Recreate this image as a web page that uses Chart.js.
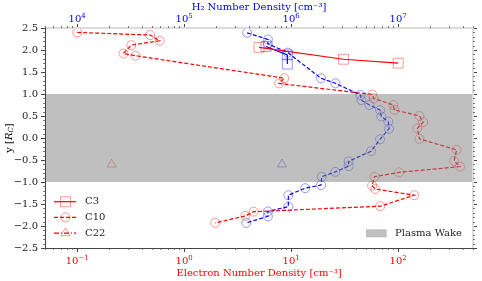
<!DOCTYPE html>
<html>
<head>
<meta charset="utf-8">
<script src="https://cdn.jsdelivr.net/npm/chart.js@4.4.1/dist/chart.umd.min.js"></script>
<style>
  html, body { margin: 0; padding: 0; background: #fff; }
</style>
</head>
<body>
<canvas id="grafico" width="482" height="281"></canvas>
<script>
// C10 flyby: altitude along y [R_C], electron density (bottom axis) and H2 density (top axis)
const c10ElecY = [2.40, 2.34, 2.21, 2.11, 1.92, 1.87, 1.36, 1.24, 0.99, 0.90, 0.75, 0.64, 0.50, 0.36,
                  0.22, -0.02, -0.27, -0.52, -0.65, -0.78, -0.88, -1.08, -1.16, -1.30, -1.55, -1.675, -1.77, -1.93];
const c10Elec = [0.10, 0.48, 0.59, 0.32, 0.27, 0.35, 8.6, 7.7, 57, 59, 90, 92, 158, 171,
                 151, 158, 351, 333, 378, 102, 60, 57, 61, 141, 68, 4.45, 3.73, 1.95];
const c10H2Y = [2.39, 2.24, 2.14, 1.94, 1.357, 1.243, 0.977, 0.86, 0.75, 0.636, 0.49, 0.37, 0.21,
                -0.03, -0.30, -0.53, -0.64, -0.77, -0.88, -1.07, -1.14, -1.30, -1.56, -1.67, -1.78, -1.93];
const c10H2 = [3.87e5, 6.05e5, 6.05e5, 9.3e5, 1.9e6, 2.59e6, 4.44e6, 4.53e6, 5.38e6, 6.76e6, 6.95e6, 8.09e6, 8.2e6,
               6.76e6, 5.57e6, 3.44e6, 3.44e6, 2.58e6, 1.93e6, 1.9e6, 1.35e6, 9.4e5, 9.4e5, 6.05e5, 6.05e5, 3.8e5];

// C3 flyby
const c3ElecY = [2.06, 1.79, 1.70];
const c3Elec = [5.0, 30.8, 100];
const c3H2Y = [2.08, 1.89, 1.68];
const c3H2 = [5.8e5, 9.2e5, 9.2e5];

// C22 flyby (single point each)
const c22Y = [-0.60];
const c22Elec = [0.21];
const c22H2 = [8.2e5];

// tick labels (base 10, exponent)
const elecTicks = [0.1, 1, 10, 100];
const elecExp = ['−1', '0', '1', '2'];
const h2Ticks = [1e4, 1e5, 1e6, 1e7];
const h2Exp = ['4', '5', '6', '7'];
const yTicks = [-2.5, -2.0, -1.5, -1.0, -0.5, 0.0, 0.5, 1.0, 1.5, 2.0, 2.5];

// wake band limits
const wakeBand = [-1.0, 1.0];

const pts = (xs, ys) => xs.map((v, i) => ({ x: v, y: ys[i] }));
const FONT = 'DejaVu Serif';
const redLine = 'rgb(255,0,0)';
const redMark = 'rgba(255,0,0,0.4)';
const blueLine = 'rgb(0,0,255)';
const blueMark = 'rgba(0,0,255,0.4)';

function serie(label, data, xAxis, line, mark, dash, style, radius) {
  return {
    label: label,
    data: data,
    xAxisID: xAxis,
    yAxisID: 'y',
    showLine: true,
    borderColor: line,
    borderWidth: 1.2,
    borderDash: dash,
    pointStyle: style,
    pointRadius: radius,
    pointHoverRadius: radius,
    pointBorderColor: mark,
    pointBackgroundColor: 'rgba(0,0,0,0)',
    pointBorderWidth: 1
  };
}

// minor log ticks 2..9 between decades
function logMinor(min, max) {
  const out = [];
  for (let e = Math.floor(Math.log10(min)); e <= Math.ceil(Math.log10(max)); e++) {
    for (let m = 2; m <= 9; m++) {
      const v = m * Math.pow(10, e);
      if (v >= min && v <= max) out.push(v);
    }
  }
  return out;
}

function drawMarker(ctx, style, x, y, r, color) {
  ctx.save();
  ctx.strokeStyle = color;
  ctx.lineWidth = 1;
  ctx.setLineDash([]);
  ctx.beginPath();
  if (style === 'circle') {
    ctx.arc(x, y, r, 0, Math.PI * 2);
  } else if (style === 'rect') {
    const s = r * Math.SQRT1_2;
    ctx.rect(x - s, y - s, 2 * s, 2 * s);
  } else {
    ctx.moveTo(x, y - r);
    ctx.lineTo(x + r * 0.866, y + r * 0.5);
    ctx.lineTo(x - r * 0.866, y + r * 0.5);
    ctx.closePath();
  }
  ctx.stroke();
  ctx.restore();
}

// "10" with a raised exponent, centred on x
function powerLabel(ctx, exp, x, y, color) {
  ctx.save();
  ctx.fillStyle = color;
  ctx.textBaseline = 'alphabetic';
  ctx.textAlign = 'left';
  ctx.font = '10px "' + FONT + '"';
  const wb = ctx.measureText('10').width;
  ctx.font = '7px "' + FONT + '"';
  const we = ctx.measureText(exp).width;
  const x0 = x - (wb + we) / 2;
  ctx.font = '10px "' + FONT + '"';
  ctx.fillText('10', x0, y);
  ctx.font = '7px "' + FONT + '"';
  ctx.fillText(exp, x0 + wb, y - 4.5);
  ctx.restore();
}

const decoracoes = {
  id: 'decoracoes',
  afterDatasetsDraw(chart) {
    const { ctx, chartArea: a, scales } = chart;
    // plasma wake band, drawn over the data like the original
    const y1 = scales.y.getPixelForValue(wakeBand[1]);
    const y0 = scales.y.getPixelForValue(wakeBand[0]);
    ctx.save();
    ctx.fillStyle = 'rgba(128,128,128,0.5)';
    ctx.fillRect(a.left, y1, a.right - a.left, y0 - y1);
    ctx.restore();
  },
  afterDraw(chart) {
    const { ctx, chartArea: a, scales } = chart;
    ctx.save();

    // spines
    ctx.lineWidth = 2;
    ctx.strokeStyle = '#dcdcdc';
    ctx.beginPath();
    ctx.moveTo(a.left, a.top); ctx.lineTo(a.right, a.top);
    ctx.moveTo(a.right, a.top); ctx.lineTo(a.right, a.bottom);
    ctx.stroke();
    ctx.lineWidth = 1;
    ctx.strokeStyle = '#444';
    ctx.beginPath();
    ctx.moveTo(a.left + 0.5, a.top); ctx.lineTo(a.left + 0.5, a.bottom + 0.5);
    ctx.lineTo(a.right, a.bottom + 0.5);
    ctx.stroke();

    // minor ticks
    ctx.strokeStyle = '#555';
    ctx.lineWidth = 0.8;
    ctx.beginPath();
    logMinor(scales.x.min, scales.x.max).forEach(v => {
      const px = Math.round(scales.x.getPixelForValue(v)) + 0.5;
      ctx.moveTo(px, a.bottom); ctx.lineTo(px, a.bottom + 2);
    });
    logMinor(scales.x2.min, scales.x2.max).forEach(v => {
      const px = Math.round(scales.x2.getPixelForValue(v)) + 0.5;
      ctx.moveTo(px, a.top); ctx.lineTo(px, a.top - 2);
    });
    for (let i = -25; i <= 25; i++) {
      if (i % 5 === 0) continue;
      const py = Math.round(scales.y.getPixelForValue(i / 10)) + 0.5;
      ctx.moveTo(a.left, py); ctx.lineTo(a.left - 2, py);
      ctx.moveTo(a.right, py); ctx.lineTo(a.right + 2, py);
    }
    ctx.stroke();

    // log tick labels
    elecTicks.forEach((v, i) => powerLabel(ctx, elecExp[i], scales.x.getPixelForValue(v), a.bottom + 16, 'red'));
    h2Ticks.forEach((v, i) => powerLabel(ctx, h2Exp[i], scales.x2.getPixelForValue(v), a.top - 6, 'blue'));

    // axis titles
    const cx = (a.left + a.right) / 2;
    ctx.font = '10px "' + FONT + '"';
    ctx.textAlign = 'center';
    ctx.textBaseline = 'middle';
    ctx.fillStyle = 'red';
    ctx.fillText('Electron Number Density [cm⁻³]', cx, 273);
    ctx.fillStyle = 'blue';
    ctx.fillText('H₂ Number Density [cm⁻³]', cx, 7);

    // y title with subscript
    ctx.save();
    ctx.translate(9, (a.top + a.bottom) / 2);
    ctx.rotate(-Math.PI / 2);
    ctx.fillStyle = '#000';
    ctx.textAlign = 'left';
    const p1 = 'y [';
    const w1 = ctx.measureText(p1).width;
    ctx.font = 'italic 10px "' + FONT + '"';
    const wR = ctx.measureText('R').width;
    ctx.font = 'italic 7px "' + FONT + '"';
    const wC = ctx.measureText('C').width;
    ctx.font = '10px "' + FONT + '"';
    const w3 = ctx.measureText(']').width;
    let x0 = -(w1 + wR + wC + w3) / 2;
    ctx.fillText(p1, x0, 0); x0 += w1;
    ctx.font = 'italic 10px "' + FONT + '"';
    ctx.fillText('R', x0, 0); x0 += wR;
    ctx.font = 'italic 7px "' + FONT + '"';
    ctx.fillText('C', x0, 2.5); x0 += wC;
    ctx.font = '10px "' + FONT + '"';
    ctx.fillText(']', x0, 0);
    ctx.restore();

    // flyby legend (lower left)
    const leg = [
      { label: 'C3', dash: [], style: 'rect', r: 7 },
      { label: 'C10', dash: [4, 2], style: 'circle', r: 4.5 },
      { label: 'C22', dash: [5, 2, 1, 2], style: 'triangle', r: 5.2 }
    ];
    ctx.textAlign = 'left';
    leg.forEach((e, i) => {
      const ly = 201.7 + i * 15.7;
      ctx.strokeStyle = redLine;
      ctx.lineWidth = 1.2;
      ctx.setLineDash(e.dash);
      ctx.beginPath();
      ctx.moveTo(a.left + 9, ly); ctx.lineTo(a.left + 31, ly);
      ctx.stroke();
      ctx.setLineDash([]);
      drawMarker(ctx, e.style, a.left + 20.5, ly, e.r, redMark);
      ctx.fillStyle = '#222';
      ctx.fillText(e.label, a.left + 40, ly);
    });

    // wake legend (lower right)
    ctx.fillStyle = 'rgba(128,128,128,0.5)';
    ctx.fillRect(366, 229.3, 20.7, 8);
    ctx.fillStyle = '#222';
    ctx.fillText('Plasma Wake', 395, 233.3);
    ctx.restore();
  }
};

new Chart(document.getElementById('grafico'), {
  type: 'scatter',
  data: {
    datasets: [
      serie('C3', pts(c3Elec, c3ElecY), 'x', redLine, redMark, [], 'rect', 7),
      serie('C10', pts(c10Elec, c10ElecY), 'x', redLine, redMark, [4, 2], 'circle', 4.5),
      serie('C22', pts(c22Elec, c22Y), 'x', redLine, redMark, [5, 2, 1, 2], 'triangle', 5.2),
      serie('C3 H2', pts(c3H2, c3H2Y), 'x2', blueLine, blueMark, [], 'rect', 7),
      serie('C10 H2', pts(c10H2, c10H2Y), 'x2', blueLine, blueMark, [4, 2], 'circle', 4.5),
      serie('C22 H2', pts(c22H2, c22Y), 'x2', blueLine, blueMark, [5, 2, 1, 2], 'triangle', 5.2)
    ]
  },
  options: {
    responsive: false,
    animation: false,
    layout: { padding: 0 },
    plugins: {
      legend: { display: false },
      tooltip: { enabled: false }
    },
    scales: {
      x: {
        type: 'logarithmic',
        position: 'bottom',
        min: 0.05,
        max: 500,
        afterBuildTicks: s => { s.ticks = elecTicks.map(v => ({ value: v })); },
        afterFit: s => { s.height = 33; },
        ticks: { display: false },
        grid: { drawOnChartArea: false, tickLength: 4, color: '#444' },
        border: { display: false }
      },
      x2: {
        type: 'logarithmic',
        position: 'top',
        min: 5e3,
        max: 5e7,
        afterBuildTicks: s => { s.ticks = h2Ticks.map(v => ({ value: v })); },
        afterFit: s => { s.height = 28; },
        ticks: { display: false },
        grid: { drawOnChartArea: false, tickLength: 4, color: '#444' },
        border: { display: false }
      },
      y: {
        type: 'linear',
        position: 'left',
        min: -2.5,
        max: 2.5,
        afterBuildTicks: s => { s.ticks = yTicks.map(v => ({ value: v })); },
        afterFit: s => { s.width = 45; },
        ticks: {
          color: '#222',
          font: { family: FONT, size: 10 },
          padding: 3,
          callback: v => (v < 0 ? '−' : '') + Math.abs(v).toFixed(1)
        },
        grid: { drawOnChartArea: false, tickLength: 4, color: '#444' },
        border: { display: false }
      },
      y2: {
        type: 'linear',
        position: 'right',
        min: -2.5,
        max: 2.5,
        afterBuildTicks: s => { s.ticks = yTicks.map(v => ({ value: v })); },
        afterFit: s => { s.width = 9; },
        ticks: { display: false },
        grid: { drawOnChartArea: false, tickLength: 4, color: '#444' },
        border: { display: false }
      }
    }
  },
  plugins: [decoracoes]
});
</script>
</body>
</html>
